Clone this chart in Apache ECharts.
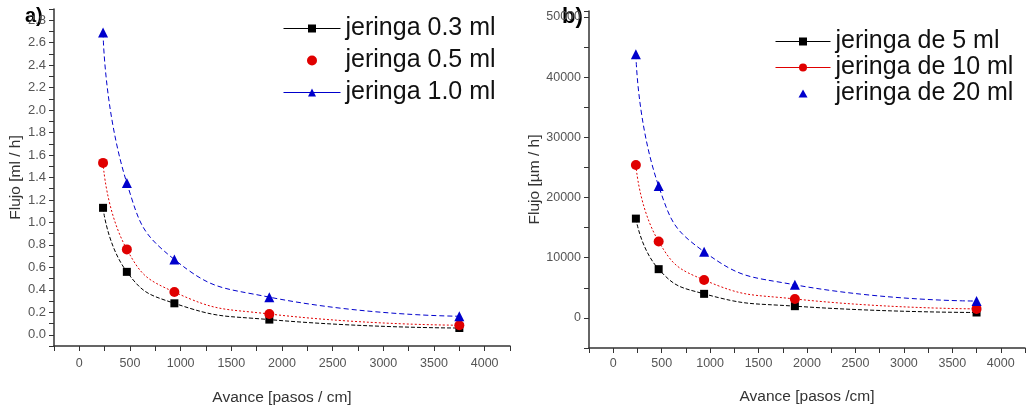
<!DOCTYPE html>
<html><head><meta charset="utf-8">
<script src="https://cdn.jsdelivr.net/npm/echarts@6/dist/echarts.min.js"></script>
<style>html,body{margin:0;padding:0;background:#fff}#c{width:1027px;height:408px}</style>
</head><body><div id="c"></div>
<script>
// Data
const avance = [234, 469, 938, 1875, 3750];
const leftNames = ['jeringa 0.3 ml', 'jeringa 0.5 ml', 'jeringa 1.0 ml'];
const left03 = [1.13, 0.56, 0.28, 0.135, 0.06];
const left05 = [1.53, 0.76, 0.38, 0.185, 0.085];
const left10 = [2.69, 1.35, 0.67, 0.335, 0.165];
const rightNames = ['jeringa de 5 ml', 'jeringa de 10 ml', 'jeringa de 20 ml'];
const right5 = [16500, 8100, 4000, 1950, 900];
const right10 = [25400, 12700, 6300, 3150, 1500];
const right20 = [43800, 21900, 11000, 5500, 2800];

const pairs = (ys) => ys.map((y, i) => [avance[i], y]);
const font = 'Liberation Sans, Arial, sans-serif';
const chart = echarts.init(document.getElementById('c'));

function xAxis(gi, name, margin, gap) {
  return {
    gridIndex: gi, type: 'value', min: -250, max: 4250, interval: 250,
    name: name, nameLocation: 'middle', nameGap: gap,
    nameTextStyle: { fontFamily: font, fontSize: 15.5, color: '#333' },
    axisLine: { onZero: false, lineStyle: { color: '#333', width: 1.5 } },
    axisTick: { inside: false, length: 5, lineStyle: { color: '#333' } },
    splitLine: { show: false },
    axisLabel: { fontFamily: font, fontSize: 12.5, color: '#555', margin: margin,
      formatter: v => (Math.round(v) % 500 === 0 ? String(Math.round(v)) : '') }
  };
}
const mkSeries = (name, ys, xi, color, symbol, size, dash) => ({
  name, type: 'line', xAxisIndex: xi, yAxisIndex: xi, data: pairs(ys),
  smooth: 0.5, symbol, symbolSize: size,
  itemStyle: { color },
  lineStyle: { color, width: 1, type: dash }
});
const triIcon = 'path://M0 0 M55 10 M27.5 1 L32 9 L23 9 Z';

chart.setOption({
  animation: false,
  textStyle: { fontFamily: font },
  grid: [
    { left: 54, top: 9, width: 456, height: 337, outerBoundsMode: 'none', containLabel: false },
    { left: 589, top: 11, width: 436, height: 337, outerBoundsMode: 'none', containLabel: false }
  ],
  xAxis: [xAxis(0, 'Avance [pasos / cm]', 11, 44), xAxis(1, 'Avance [pasos /cm]', 9, 41)],
  yAxis: [
    { gridIndex: 0, type: 'value', min: -0.1, max: 2.9, interval: 0.1,
      name: 'Flujo [ml / h]', nameLocation: 'middle', nameGap: 29,
      nameTextStyle: { fontFamily: font, fontSize: 15.5, color: '#333' },
      axisLine: { onZero: false, lineStyle: { color: '#333', width: 1.5 } },
      axisTick: { length: 5, lineStyle: { color: '#333' } },
      splitLine: { show: false },
      axisLabel: { fontFamily: font, fontSize: 13, color: '#555', margin: 8,
        formatter: v => { const k = Math.round(v * 10); return (k >= 0 && k % 2 === 0) ? (k / 10).toFixed(1) : ''; } } },
    { gridIndex: 1, type: 'value', min: -5000, max: 51000, interval: 5000,
      name: 'Flujo [µm / h]', nameLocation: 'middle', nameGap: 46,
      nameTextStyle: { fontFamily: font, fontSize: 15.5, color: '#333' },
      axisLine: { onZero: false, lineStyle: { color: '#333', width: 1.5 } },
      axisTick: { length: 5, lineStyle: { color: '#333' } },
      splitLine: { show: false },
      axisLabel: { fontFamily: font, fontSize: 12.5, color: '#555', margin: 8,
        formatter: v => { const k = Math.round(v); return (k >= 0 && k % 10000 === 0 && k <= 50000) ? String(k) : ''; } } }
  ],
  legend: [
    { left: 278, top: 11, orient: 'vertical', itemGap: 7, itemWidth: 57, itemHeight: 10,
      lineStyle: { type: 'solid', width: 1 },
      textStyle: { fontFamily: font, fontSize: 25, color: '#111' },
      data: [{ name: leftNames[0] }, { name: leftNames[1], icon: 'circle' }, { name: leftNames[2] }] },
    { left: 770, top: 24, orient: 'vertical', itemGap: 1, itemWidth: 55, itemHeight: 10,
      lineStyle: { type: 'solid', width: 1 },
      textStyle: { fontFamily: font, fontSize: 25, color: '#111' },
      data: [{ name: rightNames[0] }, { name: rightNames[1] }, { name: rightNames[2], icon: triIcon }] }
  ],
  graphic: [
    { type: 'text', left: 25, top: 6, style: { text: 'a)', font: 'bold 20px ' + font, fill: '#000' } },
    { type: 'text', left: 562, top: 6, style: { text: 'b)', font: 'bold 22px ' + font, fill: '#000' } }
  ],
  series: [
    mkSeries(leftNames[0], left03, 0, '#000', 'rect', 8, [4, 2]),
    mkSeries(leftNames[1], left05, 0, '#e00000', 'circle', 10, [2, 2]),
    mkSeries(leftNames[2], left10, 0, '#0000cc', 'triangle', 10, [5, 3]),
    mkSeries(rightNames[0], right5, 1, '#000', 'rect', 8, [4, 2]),
    mkSeries(rightNames[1], right10, 1, '#e00000', 'circle', 10, [2, 2]),
    mkSeries(rightNames[2], right20, 1, '#0000cc', 'triangle', 10, [5, 3])
  ]
});
</script></body></html>
